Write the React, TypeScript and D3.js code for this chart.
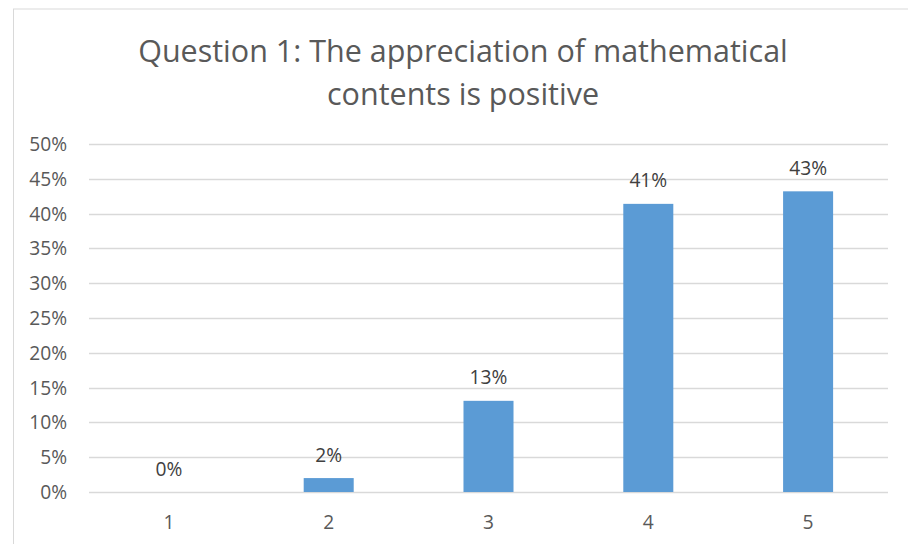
import React from "react";
import * as d3 from "d3";

const categories = ["1", "2", "3", "4", "5"];
const values = [0, 0.02, 0.131, 0.414, 0.432];
const labels = ["0%", "2%", "13%", "41%", "43%"];
const yTicks = [0, 0.05, 0.1, 0.15, 0.2, 0.25, 0.3, 0.35, 0.4, 0.45, 0.5];
const titleLines = ["Question 1: The appreciation of mathematical", "contents is positive"];

export default function App() {
  const W = 908, H = 544;
  const x = d3.scaleBand().domain(categories).range([89, 888]).paddingInner(0.687).paddingOuter(0.3435);
  const y = d3.scaleLinear().domain([0, 0.5]).range([492, 144]);
  const font = "Open Sans, Lato, sans-serif";
  const grey = "#595959";
  const fs = 19.2;
  return (
    <svg width={W} height={H} style={{ position: "absolute", left: 0, top: 0 }}>
      <rect x={0} y={0} width={W} height={H} fill="#fff" />
      <rect x={13.5} y={9} width={920} height={560} fill="#fff" stroke="#d9d9d9" strokeWidth={1} />
      {titleLines.map((t, i) => (
        <text key={i} x={463} y={62 + i * 43} textAnchor="middle" fontFamily={font} fontSize={30.5} fill={grey}>{t}</text>
      ))}
      {yTicks.map((t) => (
        <g key={t}>
          <line x1={89} x2={888} y1={Math.round(y(t)) + 0.5} y2={Math.round(y(t)) + 0.5} stroke="#d9d9d9" strokeWidth={1.5} />
          <text x={67} y={y(t)} dy="0.36em" textAnchor="end" fontFamily={font} fontSize={fs} fill={grey}>{d3.format(".0%")(t)}</text>
        </g>
      ))}
      {categories.map((c, i) => (
        <g key={c}>
          {values[i] > 0 && (
            <rect x={x(c)} y={y(values[i])} width={x.bandwidth()} height={y(0) - y(values[i])} fill="#5b9bd5" />
          )}
          <text x={(x(c) as number) + x.bandwidth() / 2} y={y(values[i]) - 16.5} textAnchor="middle" fontFamily={font} fontSize={fs} fill="#404040">{labels[i]}</text>
          <text x={(x(c) as number) + x.bandwidth() / 2} y={529} textAnchor="middle" fontFamily={font} fontSize={fs} fill={grey}>{c}</text>
        </g>
      ))}
    </svg>
  );
}
